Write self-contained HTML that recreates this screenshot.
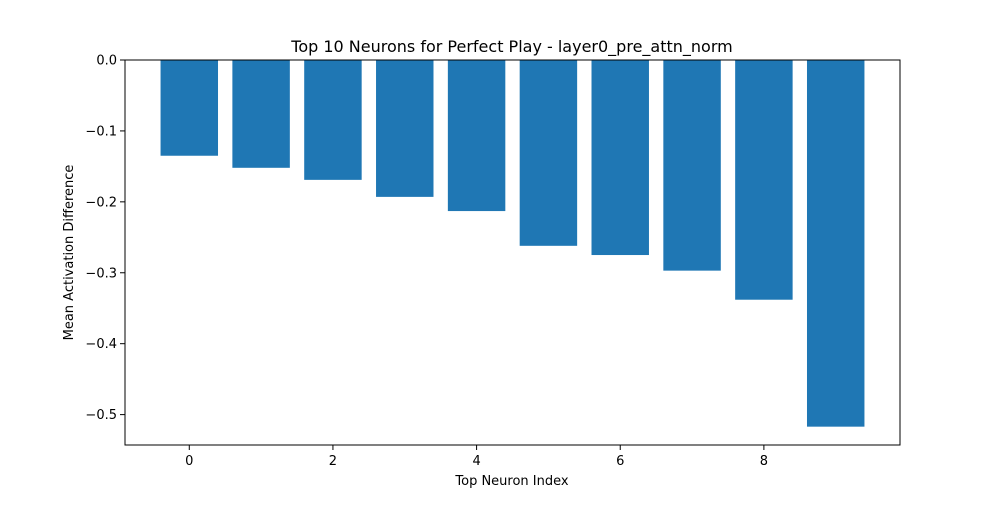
<!DOCTYPE html>
<html><head><meta charset="utf-8"><style>
body{margin:0;background:#fff;}
svg text{font-family:"DejaVu Sans","Liberation Sans",sans-serif;fill:#000;}
</style></head><body>
<svg id="chart" width="1000" height="500" xmlns="http://www.w3.org/2000/svg">
<rect width="1000" height="500" fill="#fff"/>
<text x="512" y="52" font-size="16" text-anchor="middle">Top 10 Neurons for Perfect Play - layer0_pre_attn_norm</text>
<g id="bars"></g>
<g id="xticks"></g>
<g id="yticks"></g>
<rect x="125" y="60" width="775" height="385" fill="none" stroke="#000" stroke-width="1"/>
<text x="512" y="485" font-size="13" text-anchor="middle">Top Neuron Index</text>
<text transform="translate(73,252.5) rotate(-90)" font-size="13" text-anchor="middle">Mean Activation Difference</text>
</svg>
<script>
const categories = [0,1,2,3,4,5,6,7,8,9];
const values = [-0.135,-0.152,-0.169,-0.193,-0.213,-0.262,-0.275,-0.297,-0.338,-0.517];
const xTickLabels = [0,2,4,6,8];
const yTickLabels = [0.0,-0.1,-0.2,-0.3,-0.4,-0.5];
const NS="http://www.w3.org/2000/svg";
const L=125,R=900,T=60,B=445;
const xmin=-0.895,xmax=9.895;
const vmin=Math.min(...values);
const ymax=0, ymin=vmin-0.05*(0-vmin);
const x=v=>L+(v-xmin)/(xmax-xmin)*(R-L);
const y=v=>T+(ymax-v)/(ymax-ymin)*(B-T);
const bars=document.getElementById('bars');
categories.forEach((c,i)=>{
  const r=document.createElementNS(NS,'rect');
  const x0=x(c-0.4),x1=x(c+0.4);
  r.setAttribute('x',x0);r.setAttribute('width',x1-x0);
  r.setAttribute('y',y(0));r.setAttribute('height',y(values[i])-y(0));
  r.setAttribute('fill','#1f77b4');
  
  
  bars.appendChild(r);
});
const xt=document.getElementById('xticks');
xTickLabels.forEach(v=>{
  const l=document.createElementNS(NS,'line');
  l.setAttribute('x1',x(v));l.setAttribute('x2',x(v));l.setAttribute('y1',B);l.setAttribute('y2',B+5);l.setAttribute('stroke','#000');
  
  
  xt.appendChild(l);
  const t=document.createElementNS(NS,'text');
  t.setAttribute('x',x(v));t.setAttribute('y',B+20);t.setAttribute('font-size','13');t.setAttribute('text-anchor','middle');
  t.textContent=v;
  
  
  xt.appendChild(t);
});
const yt=document.getElementById('yticks');
yTickLabels.forEach(v=>{
  const l=document.createElementNS(NS,'line');
  l.setAttribute('x1',L-5);l.setAttribute('x2',L);l.setAttribute('y1',y(v));l.setAttribute('y2',y(v));l.setAttribute('stroke','#000');
  
  
  yt.appendChild(l);
  const t=document.createElementNS(NS,'text');
  t.setAttribute('x',L-8);t.setAttribute('y',y(v)+4.5);t.setAttribute('font-size','13');t.setAttribute('text-anchor','end');
  t.textContent=(v<0?'\u2212':'')+Math.abs(v).toFixed(1);
  
  
  yt.appendChild(t);
});
</script>
</body></html>
